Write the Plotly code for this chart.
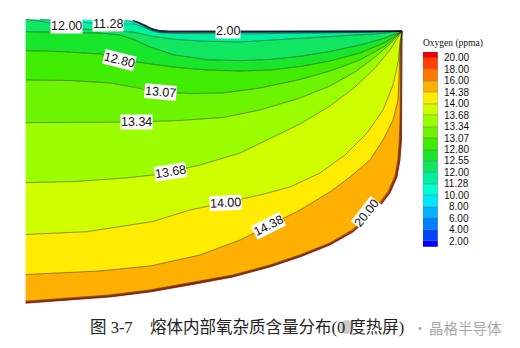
import plotly.graph_objects as go

# ---------------------------------------------------------------------------
# Oxygen concentration in the melt (ppma): contour levels and band colours
# ---------------------------------------------------------------------------
LEVELS = [2.00, 4.00, 6.00, 8.00, 10.00, 11.28, 12.00, 12.55, 12.80, 13.07,
          13.34, 13.68, 14.00, 14.38, 16.00, 18.00, 20.00]

# one colour below the first level, one between each pair, one above the last
BAND_COLORS = ["#0000ff", "#0040ff", "#0080ff", "#00b4ff", "#00e8ff", "#00ffd0",
               "#00f0a0", "#10e660", "#18e62a", "#40ec00", "#6cf400", "#9cff00",
               "#d0ff00", "#ffec00", "#ffb000", "#ff7800", "#ff4000", "#ee0000"]

# ---------------------------------------------------------------------------
# Melt domain: r = distance from the axis (mm), d = depth below the crystal (mm)
# ---------------------------------------------------------------------------
# crystal interface and free surface, from the axis to the crucible wall
TOP_R = [0, 55, 108, 113, 120, 127, 133, 143, 377]
TOP_D = [0.3, 0.6, 1.5, 3.0, 6.0, 9.5, 11.3, 12.0, 12.0]
# crucible wall and bottom, from the wall/free-surface corner back to the axis
WALL_R = [377, 377, 376.5, 375, 372, 365, 355, 343, 328, 305, 275, 245, 208,
          165, 125, 85, 42, 0]
WALL_D = [12, 91, 121, 141, 158, 174, 187, 200, 213, 226, 238, 248, 258,
          266, 273, 278, 281.5, 284.3]

# ---------------------------------------------------------------------------
# Iso-lines, each running from the axis (or the free surface) to the corner
# ---------------------------------------------------------------------------
iso_02_00_r = [111, 120, 127, 135, 145, 225, 330, 377]
iso_02_00_d = [2.4, 6.3, 9.8, 11.8, 12.3, 12.3, 12.25, 12.0]
iso_04_00_r = [110, 120, 127, 135, 145, 225, 330, 377]
iso_04_00_d = [2.1, 6.6, 10.1, 12.1, 12.6, 12.6, 12.5, 12.0]
iso_06_00_r = [109, 120, 127, 135, 145, 225, 330, 377]
iso_06_00_d = [1.8, 6.9, 10.4, 12.4, 12.9, 12.9, 12.75, 12.0]
iso_08_00_r = [108, 120, 127, 135, 145, 225, 330, 377]
iso_08_00_d = [1.5, 7.3, 10.8, 12.8, 13.2, 13.2, 13.0, 12.0]
iso_10_00_r = [100, 113, 120, 127, 135, 145, 225, 330, 377]
iso_10_00_d = [1.4, 3.8, 7.9, 11.3, 13.3, 13.6, 13.6, 13.3, 12.0]
iso_11_28_r = [15, 45, 67, 82, 100, 110, 117, 125, 133, 150, 225, 305, 355, 377]
iso_11_28_d = [0.4, 2.0, 4.0, 4.5, 4.5, 5.0, 7.5, 11.0, 13.5, 14.5, 14.8, 14.3, 13.3, 12.0]
iso_12_00_r = [0, 15, 25, 41, 58, 75, 95, 107, 115, 128, 148, 175, 215, 275, 325, 355, 377]
iso_12_00_d = [0.3, 2, 4, 7, 10, 11.2, 12, 13, 14.5, 17.5, 20.2, 22, 23, 19.5, 16.5, 14.5, 12]
iso_12_55_r = [0, 35, 75, 95, 110, 125, 148, 182, 215, 245, 275, 305, 335, 360, 377]
iso_12_55_d = [12.7, 13, 14, 16, 21, 28, 35.7, 40.7, 41.7, 40.5, 37.3, 32.5, 26, 19, 12]
iso_12_80_r = [0, 35, 75, 94, 115, 148, 182, 215, 245, 275, 305, 335, 360, 377]
iso_12_80_d = [31.7, 32.5, 35, 39.5, 43.5, 48, 51, 52, 51, 47.5, 42, 34, 23.5, 12]
iso_13_07_r = [0, 45, 85, 115, 135, 165, 198, 235, 275, 305, 335, 360, 377]
iso_13_07_d = [61, 61.5, 64, 69, 73, 74.5, 74, 69, 60.5, 52, 41, 27, 12]
iso_13_34_r = [0, 55, 111, 155, 198, 235, 275, 305, 330, 350, 365, 377]
iso_13_34_d = [103.7, 103.7, 103, 101.5, 98.5, 91, 79, 67, 53, 38, 25, 12]
iso_13_68_r = [0, 50, 100, 128, 145, 175, 215, 242, 275, 305, 330, 350, 365, 377]
iso_13_68_d = [163.7, 162.5, 159, 156, 153, 146, 134, 121, 105, 87, 68, 49, 31, 12]
iso_14_00_r = [0, 62, 128, 165, 200, 235, 265, 295, 320, 342, 358, 368, 373.5, 374.6, 377]
iso_14_00_d = [215.5, 212.7, 202.5, 191, 183.5, 176, 168, 154, 136, 114, 91, 66, 41, 25, 12]
iso_14_38_r = [0, 75, 125, 175, 215, 243, 275, 305, 325, 345, 358, 368, 373, 374.3, 374.9, 377]
iso_14_38_d = [255.5, 252, 247, 236, 221, 207, 191, 173, 158, 141, 121, 101, 81, 51, 30, 12]
iso_16_00_r = [0, 42, 85, 125, 165, 208, 245, 275, 305, 327, 341, 353, 362.8, 369.8,
               372.8, 374.3, 375.2, 375.4, 377]
iso_16_00_d = [282.2, 279.4, 275.9, 270.9, 263.9, 255.9, 245.9, 235.8, 223.8, 211,
               198.3, 185.5, 172.8, 157.3, 140.8, 121, 91, 30, 12]
iso_18_00_r = [0, 42, 85, 125, 165, 208, 245, 275, 305, 327.5, 341.8, 354, 363.8,
               370.6, 373.6, 375.1, 375.9, 376.0, 377]
iso_18_00_d = [282.9, 280.1, 276.6, 271.6, 264.6, 256.6, 246.6, 236.6, 224.6, 211.9,
               199.2, 186.3, 173, 157.5, 141, 121, 91, 30, 12]
iso_20_00_r = [0, 42, 85, 125, 165, 208, 245, 275, 305, 327.8, 342.4, 354.6, 364.4,
               371.3, 374.3, 375.8, 376.4, 376.5, 377]
iso_20_00_d = [283.6, 280.8, 277.3, 272.3, 265.3, 257.3, 247.3, 237.3, 225.3, 212.4,
               199.6, 186.7, 173.5, 157.8, 141, 121, 91, 30, 12]

ISO_LINES = [
    (iso_02_00_r, iso_02_00_d), (iso_04_00_r, iso_04_00_d), (iso_06_00_r, iso_06_00_d),
    (iso_08_00_r, iso_08_00_d), (iso_10_00_r, iso_10_00_d), (iso_11_28_r, iso_11_28_d),
    (iso_12_00_r, iso_12_00_d), (iso_12_55_r, iso_12_55_d), (iso_12_80_r, iso_12_80_d),
    (iso_13_07_r, iso_13_07_d), (iso_13_34_r, iso_13_34_d), (iso_13_68_r, iso_13_68_d),
    (iso_14_00_r, iso_14_00_d), (iso_14_38_r, iso_14_38_d), (iso_16_00_r, iso_16_00_d),
    (iso_18_00_r, iso_18_00_d), (iso_20_00_r, iso_20_00_d),
]

# in-line contour labels: level, position (r, d) and text angle
LABEL_LEVELS = [12.00, 11.28, 2.00, 12.80, 13.07, 13.34, 13.68, 14.00, 14.38, 20.00]
LABEL_R = [41, 82.5, 202.5, 94, 135, 111, 145, 200, 243, 341.7]
LABEL_D = [7, 4.5, 12, 40.5, 73, 103, 153, 184, 207, 194]
LABEL_ANGLE = [0, 0, 0, 14, 5, 0, -9, -3, -27, -52]

CAPTION_NUM = "图 3-7"
CAPTION_TEXT = "熔体内部氧杂质含量分布(0 度热屏)"
WATERMARK = "晶格半导体"


def surface_between(r_from, r_to):
    """Points of the crystal/free surface strictly between two radii."""
    return [(r, d) for r, d in zip(TOP_R, TOP_D) if r_from < r < r_to]


def band_polygon(upper, lower):
    """Region between two neighbouring iso-lines (upper one nearer the surface)."""
    ur, ud = upper
    lr, ld = lower
    xs = list(ur) + lr[::-1]
    ys = list(ud) + ld[::-1]
    if ur[0] > 0:  # the upper line starts on the surface: walk back along it
        if lr[0] == 0:
            xs.append(TOP_R[0])
            ys.append(TOP_D[0])
        for r, d in surface_between(lr[0], ur[0]):
            xs.append(r)
            ys.append(d)
    return xs, ys


fig = go.Figure()

# lowest band: between the free surface and the first iso-line
r0, d0 = ISO_LINES[0]
pts = [(r0[0], d0[0])] + surface_between(r0[0], TOP_R[-1]) + [(TOP_R[-1], TOP_D[-1])]
fig.add_trace(go.Scatter(
    x=[p[0] for p in pts] + r0[::-1], y=[p[1] for p in pts] + d0[::-1],
    mode="lines", fill="toself", fillcolor=BAND_COLORS[0], line=dict(width=0),
    hoverinfo="skip"))
# bands between neighbouring iso-lines
for k in range(len(ISO_LINES) - 1):
    xs, ys = band_polygon(ISO_LINES[k], ISO_LINES[k + 1])
    fig.add_trace(go.Scatter(
        x=xs, y=ys, mode="lines", fill="toself", fillcolor=BAND_COLORS[k + 1],
        line=dict(width=0), hoverinfo="skip"))
# highest band: between the last iso-line and the crucible
rl, dl = ISO_LINES[-1]
fig.add_trace(go.Scatter(
    x=list(rl) + WALL_R[1:], y=list(dl) + WALL_D[1:], mode="lines", fill="toself",
    fillcolor=BAND_COLORS[-1], line=dict(width=0), hoverinfo="skip"))

# contour strokes
for ir, idp in ISO_LINES:
    fig.add_trace(go.Scatter(
        x=ir, y=idp, mode="lines", line=dict(color="rgba(0,0,0,0.7)", width=0.6),
        hoverinfo="skip"))

# melt outline: dark free surface, reddish crucible rim
i0 = TOP_R.index(108)
fig.add_trace(go.Scatter(
    x=TOP_R[i0:], y=TOP_D[i0:], mode="lines",
    line=dict(color="rgba(10,20,60,0.85)", width=0.9), hoverinfo="skip"))
fig.add_trace(go.Scatter(
    x=WALL_R, y=WALL_D, mode="lines",
    line=dict(color="rgba(120,30,0,0.9)", width=0.8), hoverinfo="skip"))

# colour key: half bands at both ends, full bands between the levels
n_bands = len(BAND_COLORS)
heights = [0.5] + [1.0] * (n_bands - 2) + [0.5]
bases = [sum(heights[:i]) for i in range(n_bands)]
fig.add_trace(go.Bar(
    x=[0] * n_bands, y=heights, base=bases, width=1,
    marker=dict(color=BAND_COLORS, line=dict(color="rgba(70,70,70,0.55)", width=0.5)),
    xaxis="x2", yaxis="y2", hoverinfo="skip"))

annotations = []
for i, lv in enumerate(LEVELS):
    annotations.append(dict(
        x=471 / 520, y=bases[i + 1], xref="paper", yref="y2", text=f"{lv:.2f}",
        showarrow=False, xanchor="right", yanchor="middle",
        font=dict(family="Liberation Sans, Arial, sans-serif", size=10, color="#111")))
annotations.append(dict(
    x=421 / 520, y=1 - 44 / 348, xref="paper", yref="paper", text="Oxygen (ppma)",
    showarrow=False, xanchor="left", yanchor="middle",
    font=dict(family="Liberation Serif, Times New Roman, serif", size=9.5, color="#111")))

for lv, r, d, ang in zip(LABEL_LEVELS, LABEL_R, LABEL_D, LABEL_ANGLE):
    annotations.append(dict(
        x=r, y=d, xref="x", yref="y", text=f"{lv:.2f}", showarrow=False,
        textangle=ang, bgcolor="white", borderpad=0,
        font=dict(family="Liberation Sans, Arial, sans-serif", size=12.5, color="#111")))

cap_font = "Liberation Serif, Times New Roman, Noto Sans CJK SC, serif"
annotations.append(dict(
    x=88 / 520, y=1 - 327 / 348, xref="paper", yref="paper", text=CAPTION_NUM,
    showarrow=False, xanchor="left", yanchor="middle",
    font=dict(family=cap_font, size=16.5, color="#222")))
annotations.append(dict(
    x=148 / 520, y=1 - 327 / 348, xref="paper", yref="paper", text=CAPTION_TEXT,
    showarrow=False, xanchor="left", yanchor="middle",
    font=dict(family=cap_font, size=16.5, color="#222")))
annotations.append(dict(
    x=420 / 520, y=1 - 327 / 348, xref="paper", yref="paper", text="·",
    showarrow=False, xanchor="center", yanchor="middle",
    font=dict(family="Noto Sans CJK SC, sans-serif", size=14, color="#a8a8a8")))
annotations.append(dict(
    x=427 / 520, y=1 - 327 / 348, xref="paper", yref="paper", text=WATERMARK,
    showarrow=False, xanchor="left", yanchor="middle",
    font=dict(family="Noto Sans CJK SC, sans-serif", size=14.5, color="#a8a8a8")))

fig.update_layout(
    width=520, height=348, margin=dict(l=0, r=0, t=0, b=0),
    paper_bgcolor="white", plot_bgcolor="white", showlegend=False,
    bargap=0, barmode="overlay",
    xaxis=dict(range=[-25, 495], domain=[0, 1], visible=False, fixedrange=True,
               showline=False, zeroline=False, showgrid=False),
    yaxis=dict(range=[329, -19], domain=[0, 1], visible=False, fixedrange=True,
               showline=False, zeroline=False, showgrid=False),
    xaxis2=dict(range=[-0.5, 0.5], domain=[423 / 520, 438 / 520], anchor="y2",
                visible=False, fixedrange=True, zeroline=False, showgrid=False),
    yaxis2=dict(range=[0, n_bands - 1], domain=[1 - 247 / 348, 1 - 52 / 348],
                anchor="x2", visible=False, fixedrange=True, zeroline=False,
                showgrid=False),
    annotations=annotations,
    shapes=[
        # clean edge along the symmetry axis
        dict(type="rect", xref="x", yref="y", x0=-25, x1=0.6, y0=-19, y1=329,
             fillcolor="white", line=dict(width=0), layer="above"),
        dict(type="circle", xref="paper", yref="paper",
             x0=340 / 520, x1=354 / 520, y0=1 - 334 / 348, y1=1 - 320 / 348,
             fillcolor="rgba(140,140,140,0.45)", line=dict(width=0)),
    ],
)

fig.write_html("out.html", config={"displayModeBar": False})
